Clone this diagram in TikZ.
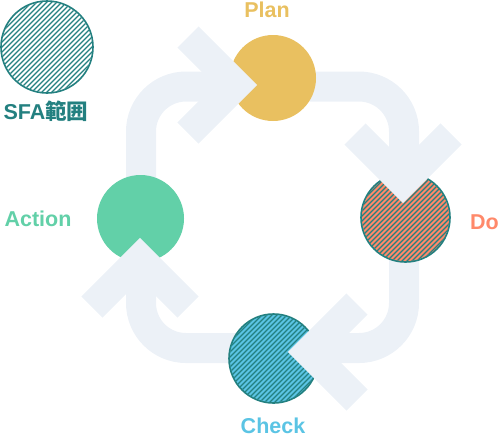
\documentclass[tikz,border=0pt]{standalone}
\usepackage{fontspec}
\setsansfont{Liberation Sans}
\newfontfamily\cjk{Noto Sans CJK JP}
\usepackage{tikz}
\definecolor{trackGray}{RGB}{236,241,247}
\definecolor{planYellow}{RGB}{233,192,96}
\definecolor{doSalmon}{RGB}{255,137,106}
\definecolor{checkBlue}{RGB}{91,196,228}
\definecolor{actGreen}{RGB}{98,208,168}
\definecolor{sfaTeal}{RGB}{35,128,128}

% diagonal hatch inside a circle: #1 centre, #2 radius
\newcommand{\hatchin}[2]{%
  \begin{scope}
    \clip (#1) circle (#2);
    \foreach \k in {-100,-95,...,100}
      \draw[hatch, shift={(#1)}] (\k-50,50) -- (\k+50,-50);
  \end{scope}}

\begin{document}
\begin{tikzpicture}[x=1pt, y=-1pt,
    track/.style={draw=trackGray, line width=30pt, rounded corners=45pt},
    chevron/.style={draw=trackGray, line width=30pt, line join=miter},
    ring/.style={circle, inner sep=0pt, minimum size=#1},
    rim/.style={draw=sfaTeal, line width=1.6pt},
    hatch/.style={draw=sfaTeal, line width=1.1pt},
    tag/.style={font=\sffamily\bfseries\fontsize{21.5}{21.5}\selectfont, inner sep=0pt}]
  \useasboundingbox (0,0) rectangle (502,437);

  % the cycle
  \draw[track] (141,86.5) rectangle (404,348);

  % legend
  \node[ring=92, fill=white, rim] (sfa) at (47,47) {};
  \hatchin{sfa.center}{45.2pt}
  \node[tag, text=sfaTeal] (sfatag) at (46,111.5) {SFA{\cjk 範囲}};

  % PDCA steps
  \node[ring=86, fill=planYellow] (plan) at (273,78) {};
  \node[ring=89, fill=doSalmon, rim] (do) at (405.5,217.5) {};
  \hatchin{do.center}{43.7pt}
  \node[ring=89, fill=checkBlue, rim] (check) at (273.5,358.5) {};
  \hatchin{check.center}{43.7pt}
  \node[ring=87, fill=actGreen] (act) at (140.5,218.5) {};

  % arrow heads
  \draw[chevron] (188,37) -- (236,85) -- (188,133);
  \draw[chevron] (355,134) -- (403,182) -- (451,134);
  \draw[chevron] (357,304) -- (309,352) -- (357,400);
  \draw[chevron] (92,307) -- (140,259) -- (188,307);

  \node[tag, text=planYellow] (plantag) at (267,9.5) {Plan};
  \node[tag, text=doSalmon] (dotag) at (484.5,222) {Do};
  \node[tag, text=checkBlue] (checktag) at (273,426) {Check};
  \node[tag, text=actGreen] (acttag) at (38,219) {Action};
\end{tikzpicture}
\end{document}
